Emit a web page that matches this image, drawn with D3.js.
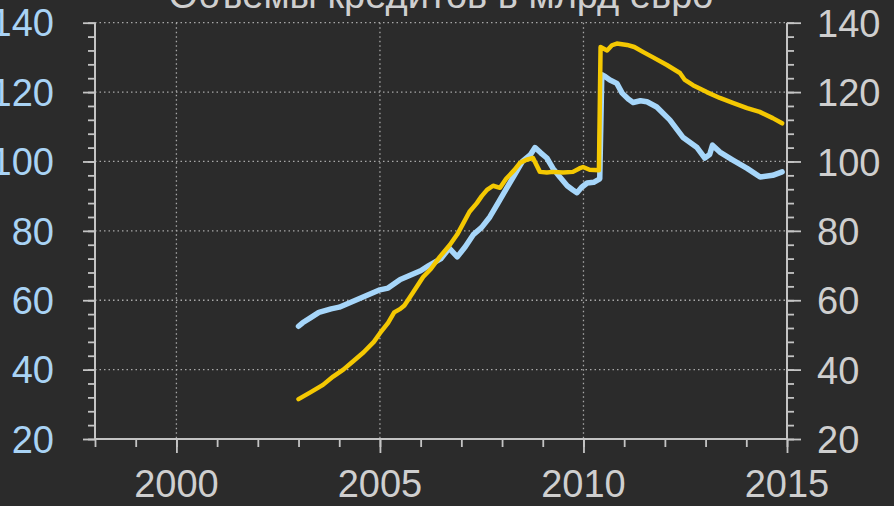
<!DOCTYPE html>
<html>
<head>
<meta charset="utf-8">
<script src="https://cdn.jsdelivr.net/npm/d3@7"></script>
<style>
  html, body { margin: 0; padding: 0; background: #2b2b2b; }
  svg { display: block; }
  text { font-family: "Liberation Sans", Arial, sans-serif; }
</style>
</head>
<body>
<svg id="chart" width="894" height="506"></svg>
<script>
// Loan volumes, billion euro
const chartTitle = "Объемы кредитов в млрд евро";

// blue series: year (decimal) and value
const blueYears = [2003.0, 2003.1, 2003.3, 2003.5, 2003.8, 2004.0, 2004.3, 2004.5, 2004.8, 2005.0,
  2005.2, 2005.5, 2005.7, 2006.0, 2006.2, 2006.5, 2006.7, 2006.9, 2007.1, 2007.3,
  2007.5, 2007.7, 2007.9, 2008.1, 2008.3, 2008.5, 2008.7, 2008.81, 2008.95, 2009.1,
  2009.25, 2009.42, 2009.6, 2009.74, 2009.84, 2009.95, 2010.09, 2010.25, 2010.4, 2010.45,
  2010.53, 2010.65, 2010.82, 2010.95, 2011.1, 2011.22, 2011.4, 2011.56, 2011.8, 2012.12,
  2012.44, 2012.79, 2012.98, 2013.1, 2013.17, 2013.35, 2013.67, 2014.02, 2014.34, 2014.65, 2014.88];
const blueValues = [52.5, 53.5, 55, 56.5, 57.5, 58, 59.5, 60.5, 62, 63,
  63.5, 66, 67, 68.5, 70, 72, 75, 72.5, 75.5, 79,
  81, 84, 88, 92, 96, 100, 102, 104, 102.5, 101,
  98, 95.5, 93, 91.8, 91, 92.5, 93.8, 94, 95, 125,
  124.5, 123.5, 122.5, 119.7, 118, 117, 117.5, 117.2, 115.7, 112,
  107, 104, 101, 102, 104.7, 102.7, 100.4, 98, 95.5, 96, 97];

// yellow series: year (decimal) and value
const yellowYears = [2003.0, 2003.3, 2003.6, 2003.85, 2004.1, 2004.35, 2004.6, 2004.85, 2005.0, 2005.2,
  2005.35, 2005.5, 2005.6, 2005.8, 2006.06, 2006.25, 2006.47, 2006.72, 2006.9, 2007.04,
  2007.2, 2007.38, 2007.5, 2007.63, 2007.78, 2007.95, 2008.1, 2008.3, 2008.44, 2008.6,
  2008.76, 2008.93, 2009.1, 2009.25, 2009.5, 2009.74, 2009.9, 2009.99, 2010.15, 2010.38,
  2010.42, 2010.58, 2010.7, 2010.82, 2011.07, 2011.25, 2011.46, 2011.71, 2012.05, 2012.37,
  2012.49, 2012.69, 2013.03, 2013.35, 2013.67, 2014.02, 2014.33, 2014.65, 2014.88];
const yellowValues = [31.5, 33.5, 35.6, 38, 40, 42.5, 45, 48, 50.5, 53.5,
  56.5, 57.5, 58.5, 62, 66.7, 69, 72.5, 76, 79, 82,
  85.5, 88, 90, 91.8, 93, 92.4, 95, 97.5, 99.6, 100.5,
  101, 97, 96.8, 97, 96.8, 97, 98, 98.4, 97.6, 97.5,
  133, 132, 133.5, 134, 133.6, 133, 131.6, 130, 127.8, 125.5,
  123.5, 122, 120, 118.3, 116.9, 115.4, 114.3, 112.5, 111];

// axis ticks
const xMajorTicks = [2000, 2005, 2010, 2015];
const xMinorTicks = d3.range(1998, 2016);
const yMajorTicks = [20, 40, 60, 80, 100, 120, 140];
const yMinorTicks = d3.range(20, 141, 4);

const svg = d3.select("#chart");
const W = 894, H = 506;
const plot = { left: 95, right: 787, top: 22.7, bottom: 439 };

svg.append("rect").attr("width", W).attr("height", H).attr("fill", "#2b2b2b");

const x = d3.scaleLinear().domain([1998, 2015]).range([plot.left, plot.right]);
const y = d3.scaleLinear().domain([20, 140]).range([plot.bottom, plot.top]);

const axisColor = "#c4c4c4";
const gridColor = "#a8a8a8";
const fontSize = 38;

// dotted grid
const grid = svg.append("g");
grid.selectAll("line.h").data(yMajorTicks.filter(v => v > 20)).join("line")
  .attr("x1", plot.left).attr("x2", plot.right)
  .attr("y1", d => y(d)).attr("y2", d => y(d))
  .attr("stroke", gridColor).attr("stroke-width", 1.3).attr("stroke-dasharray", "1.5,3");
grid.selectAll("line.v").data(xMajorTicks.filter(v => v < 2015)).join("line")
  .attr("x1", d => x(d)).attr("x2", d => x(d))
  .attr("y1", plot.top).attr("y2", plot.bottom)
  .attr("stroke", gridColor).attr("stroke-width", 1.3).attr("stroke-dasharray", "1.5,3");

// helper to style d3 axes
function styleAxis(g, width) {
  g.selectAll(".domain").remove();
  g.selectAll("line").attr("stroke", axisColor).attr("stroke-width", width);
}

// minor + major tick marks (labels drawn separately)
const leftMinor = svg.append("g").attr("transform", `translate(${plot.left},0)`)
  .call(d3.axisLeft(y).tickValues(yMinorTicks).tickSize(7).tickFormat(""));
styleAxis(leftMinor, 1.8);
const leftMajor = svg.append("g").attr("transform", `translate(${plot.left},0)`)
  .call(d3.axisLeft(y).tickValues(yMajorTicks).tickSize(12).tickFormat(""));
styleAxis(leftMajor, 1.8);

const rightMinor = svg.append("g").attr("transform", `translate(${plot.right},0)`)
  .call(d3.axisRight(y).tickValues(yMinorTicks).tickSize(7).tickFormat(""));
styleAxis(rightMinor, 1.8);
const rightMajor = svg.append("g").attr("transform", `translate(${plot.right},0)`)
  .call(d3.axisRight(y).tickValues(yMajorTicks).tickSize(14).tickFormat(""));
styleAxis(rightMajor, 1.8);

const bottomMinor = svg.append("g").attr("transform", `translate(0,${plot.bottom})`)
  .call(d3.axisBottom(x).tickValues(xMinorTicks).tickSize(8).tickFormat(""));
styleAxis(bottomMinor, 1.8);
const bottomMajor = svg.append("g").attr("transform", `translate(0,${plot.bottom})`)
  .call(d3.axisBottom(x).tickValues(xMajorTicks).tickSize(14).tickFormat(""));
styleAxis(bottomMajor, 1.8);

// axis lines
svg.append("line").attr("x1", plot.left).attr("x2", plot.left)
  .attr("y1", plot.top).attr("y2", plot.bottom).attr("stroke", axisColor).attr("stroke-width", 2);
svg.append("line").attr("x1", plot.right).attr("x2", plot.right)
  .attr("y1", plot.top).attr("y2", plot.bottom).attr("stroke", axisColor).attr("stroke-width", 2);
svg.append("line").attr("x1", plot.left).attr("x2", plot.right)
  .attr("y1", plot.bottom).attr("y2", plot.bottom).attr("stroke", axisColor).attr("stroke-width", 2);

// tick labels
svg.append("g").selectAll("text").data(yMajorTicks).join("text")
  .attr("x", 54).attr("y", d => y(d)).attr("dy", "0.36em")
  .attr("text-anchor", "end").attr("font-size", fontSize)
  .attr("fill", "#a9d3f5").text(d => d);
svg.append("g").selectAll("text").data(yMajorTicks).join("text")
  .attr("x", 817).attr("y", d => y(d)).attr("dy", "0.37em")
  .attr("text-anchor", "start").attr("font-size", fontSize)
  .attr("fill", "#cfcfcf").text(d => d);
svg.append("g").selectAll("text").data(xMajorTicks).join("text")
  .attr("x", d => x(d)).attr("y", 497)
  .attr("text-anchor", "middle").attr("font-size", fontSize)
  .attr("fill", "#cfcfcf").text(d => d);

// title
svg.append("text").attr("x", 441).attr("y", 8)
  .attr("text-anchor", "middle").attr("font-size", fontSize)
  .attr("fill", "#cfcfcf").text(chartTitle);

// series lines
const line = d3.line().x(d => x(d[0])).y(d => y(d[1]));
const blue = blueYears.map((t, i) => [t, blueValues[i]]);
const yellow = yellowYears.map((t, i) => [t, yellowValues[i]]);

svg.append("path").datum(blue).attr("d", line)
  .attr("fill", "none").attr("stroke", "#a6d6fa").attr("stroke-width", 5.5)
  .attr("stroke-linejoin", "round").attr("stroke-linecap", "round");
svg.append("path").datum(yellow).attr("d", line)
  .attr("fill", "none").attr("stroke", "#f4c802").attr("stroke-width", 4.5)
  .attr("stroke-linejoin", "round").attr("stroke-linecap", "round");
</script>
</body>
</html>
